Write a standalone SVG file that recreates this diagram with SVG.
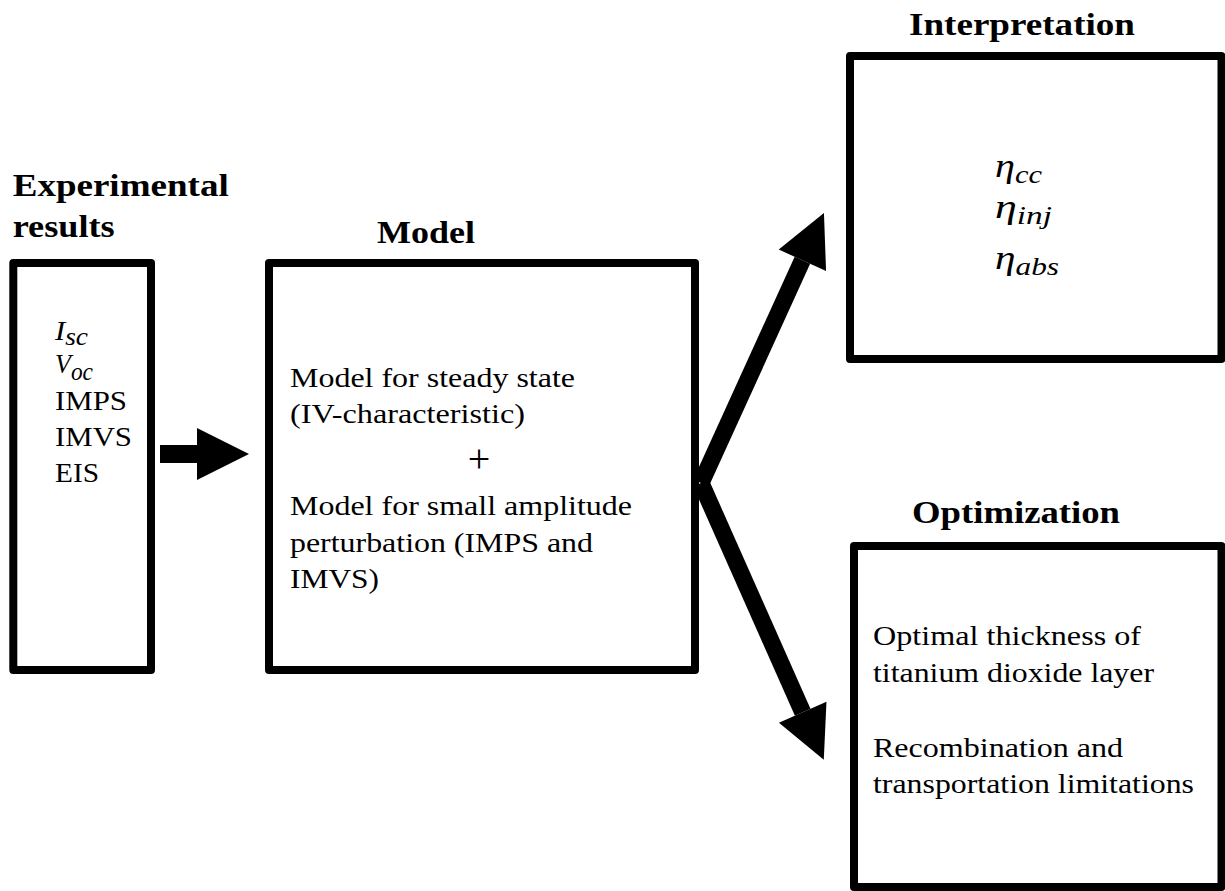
<svg xmlns="http://www.w3.org/2000/svg" width="1225" height="891" viewBox="0 0 1225 891">
<style>
.t{font-family:"Liberation Serif","Times New Roman",serif;font-size:28px;fill:#000}
.h{font-weight:bold;font-size:32px}
.m{font-style:italic}
.eta{font-size:33px}
.sub{font-size:25px}
.plus{font-size:40px}
.box{fill:#fff;stroke:#000;stroke-width:8;stroke-linejoin:round}
.arr{stroke:#000;fill:none}
</style>
<defs>
<marker id="head" markerUnits="userSpaceOnUse" markerWidth="60" markerHeight="60" viewBox="0 -30 60 60" refX="0" refY="0" orient="auto" overflow="visible">
<path d="M0,-26 L52,0 L0,26 Z" fill="#000"/>
</marker>
</defs>
<rect width="1225" height="891" fill="#fff"/>

<g id="experimental">
<text class="t h" x="12.7" y="196" textLength="216" lengthAdjust="spacingAndGlyphs">Experimental</text>
<text class="t h" x="12.7" y="237" textLength="102" lengthAdjust="spacingAndGlyphs">results</text>
<rect class="box" x="13.3" y="263" width="137.7" height="407"/>
<text class="t m" x="55" y="340" textLength="33" lengthAdjust="spacingAndGlyphs">I<tspan class="sub" dy="5">sc</tspan></text>
<text class="t m" x="55" y="373" textLength="38" lengthAdjust="spacingAndGlyphs">V<tspan class="sub" dy="7">oc</tspan></text>
<text class="t" x="55" y="410" textLength="72" lengthAdjust="spacingAndGlyphs">IMPS</text>
<text class="t" x="55" y="446" textLength="77" lengthAdjust="spacingAndGlyphs">IMVS</text>
<text class="t" x="55" y="482" textLength="44" lengthAdjust="spacingAndGlyphs">EIS</text>
</g>

<g id="model">
<text class="t h" x="377" y="243" textLength="98" lengthAdjust="spacingAndGlyphs">Model</text>
<rect class="box" x="269" y="263" width="426" height="407"/>
<text class="t" x="290" y="387" textLength="285" lengthAdjust="spacingAndGlyphs">Model for steady state</text>
<text class="t" x="290" y="423" textLength="235" lengthAdjust="spacingAndGlyphs">(IV-characteristic)</text>
<text class="t plus" x="479" y="472" text-anchor="middle">+</text>
<text class="t" x="290" y="515" textLength="342" lengthAdjust="spacingAndGlyphs">Model for small amplitude</text>
<text class="t" x="290" y="552" textLength="303" lengthAdjust="spacingAndGlyphs">perturbation (IMPS and</text>
<text class="t" x="290" y="588" textLength="89" lengthAdjust="spacingAndGlyphs">IMVS)</text>
</g>

<g id="interpretation">
<text class="t h" x="909" y="35" textLength="226" lengthAdjust="spacingAndGlyphs">Interpretation</text>
<rect class="box" x="850" y="56" width="371.5" height="303"/>
<text class="t m eta" x="995" y="177" textLength="47" lengthAdjust="spacingAndGlyphs">η<tspan class="sub" dy="6">cc</tspan></text>
<text class="t m eta" x="995" y="218" textLength="57" lengthAdjust="spacingAndGlyphs">η<tspan class="sub" dy="6">inj</tspan></text>
<text class="t m eta" x="995" y="269" textLength="64" lengthAdjust="spacingAndGlyphs">η<tspan class="sub" dy="6">abs</tspan></text>
</g>

<g id="optimization">
<text class="t h" x="912" y="523" textLength="208" lengthAdjust="spacingAndGlyphs">Optimization</text>
<rect class="box" x="854" y="546" width="367.5" height="341"/>
<text class="t" x="873" y="645" textLength="268" lengthAdjust="spacingAndGlyphs">Optimal thickness of</text>
<text class="t" x="873" y="682" textLength="281" lengthAdjust="spacingAndGlyphs">titanium dioxide layer</text>
<text class="t" x="873" y="757" textLength="250" lengthAdjust="spacingAndGlyphs">Recombination and</text>
<text class="t" x="873" y="793" textLength="321" lengthAdjust="spacingAndGlyphs">transportation limitations</text>
</g>

<g id="connectors">
<line class="arr" x1="160" y1="454" x2="197" y2="454" stroke-width="18" marker-end="url(#head)"/>
<line class="arr" x1="701" y1="483" x2="802.4" y2="260.3" stroke-width="17" marker-end="url(#head)"/>
<line class="arr" x1="701" y1="483" x2="802.7" y2="712.3" stroke-width="17" marker-end="url(#head)"/>
</g>
</svg>
